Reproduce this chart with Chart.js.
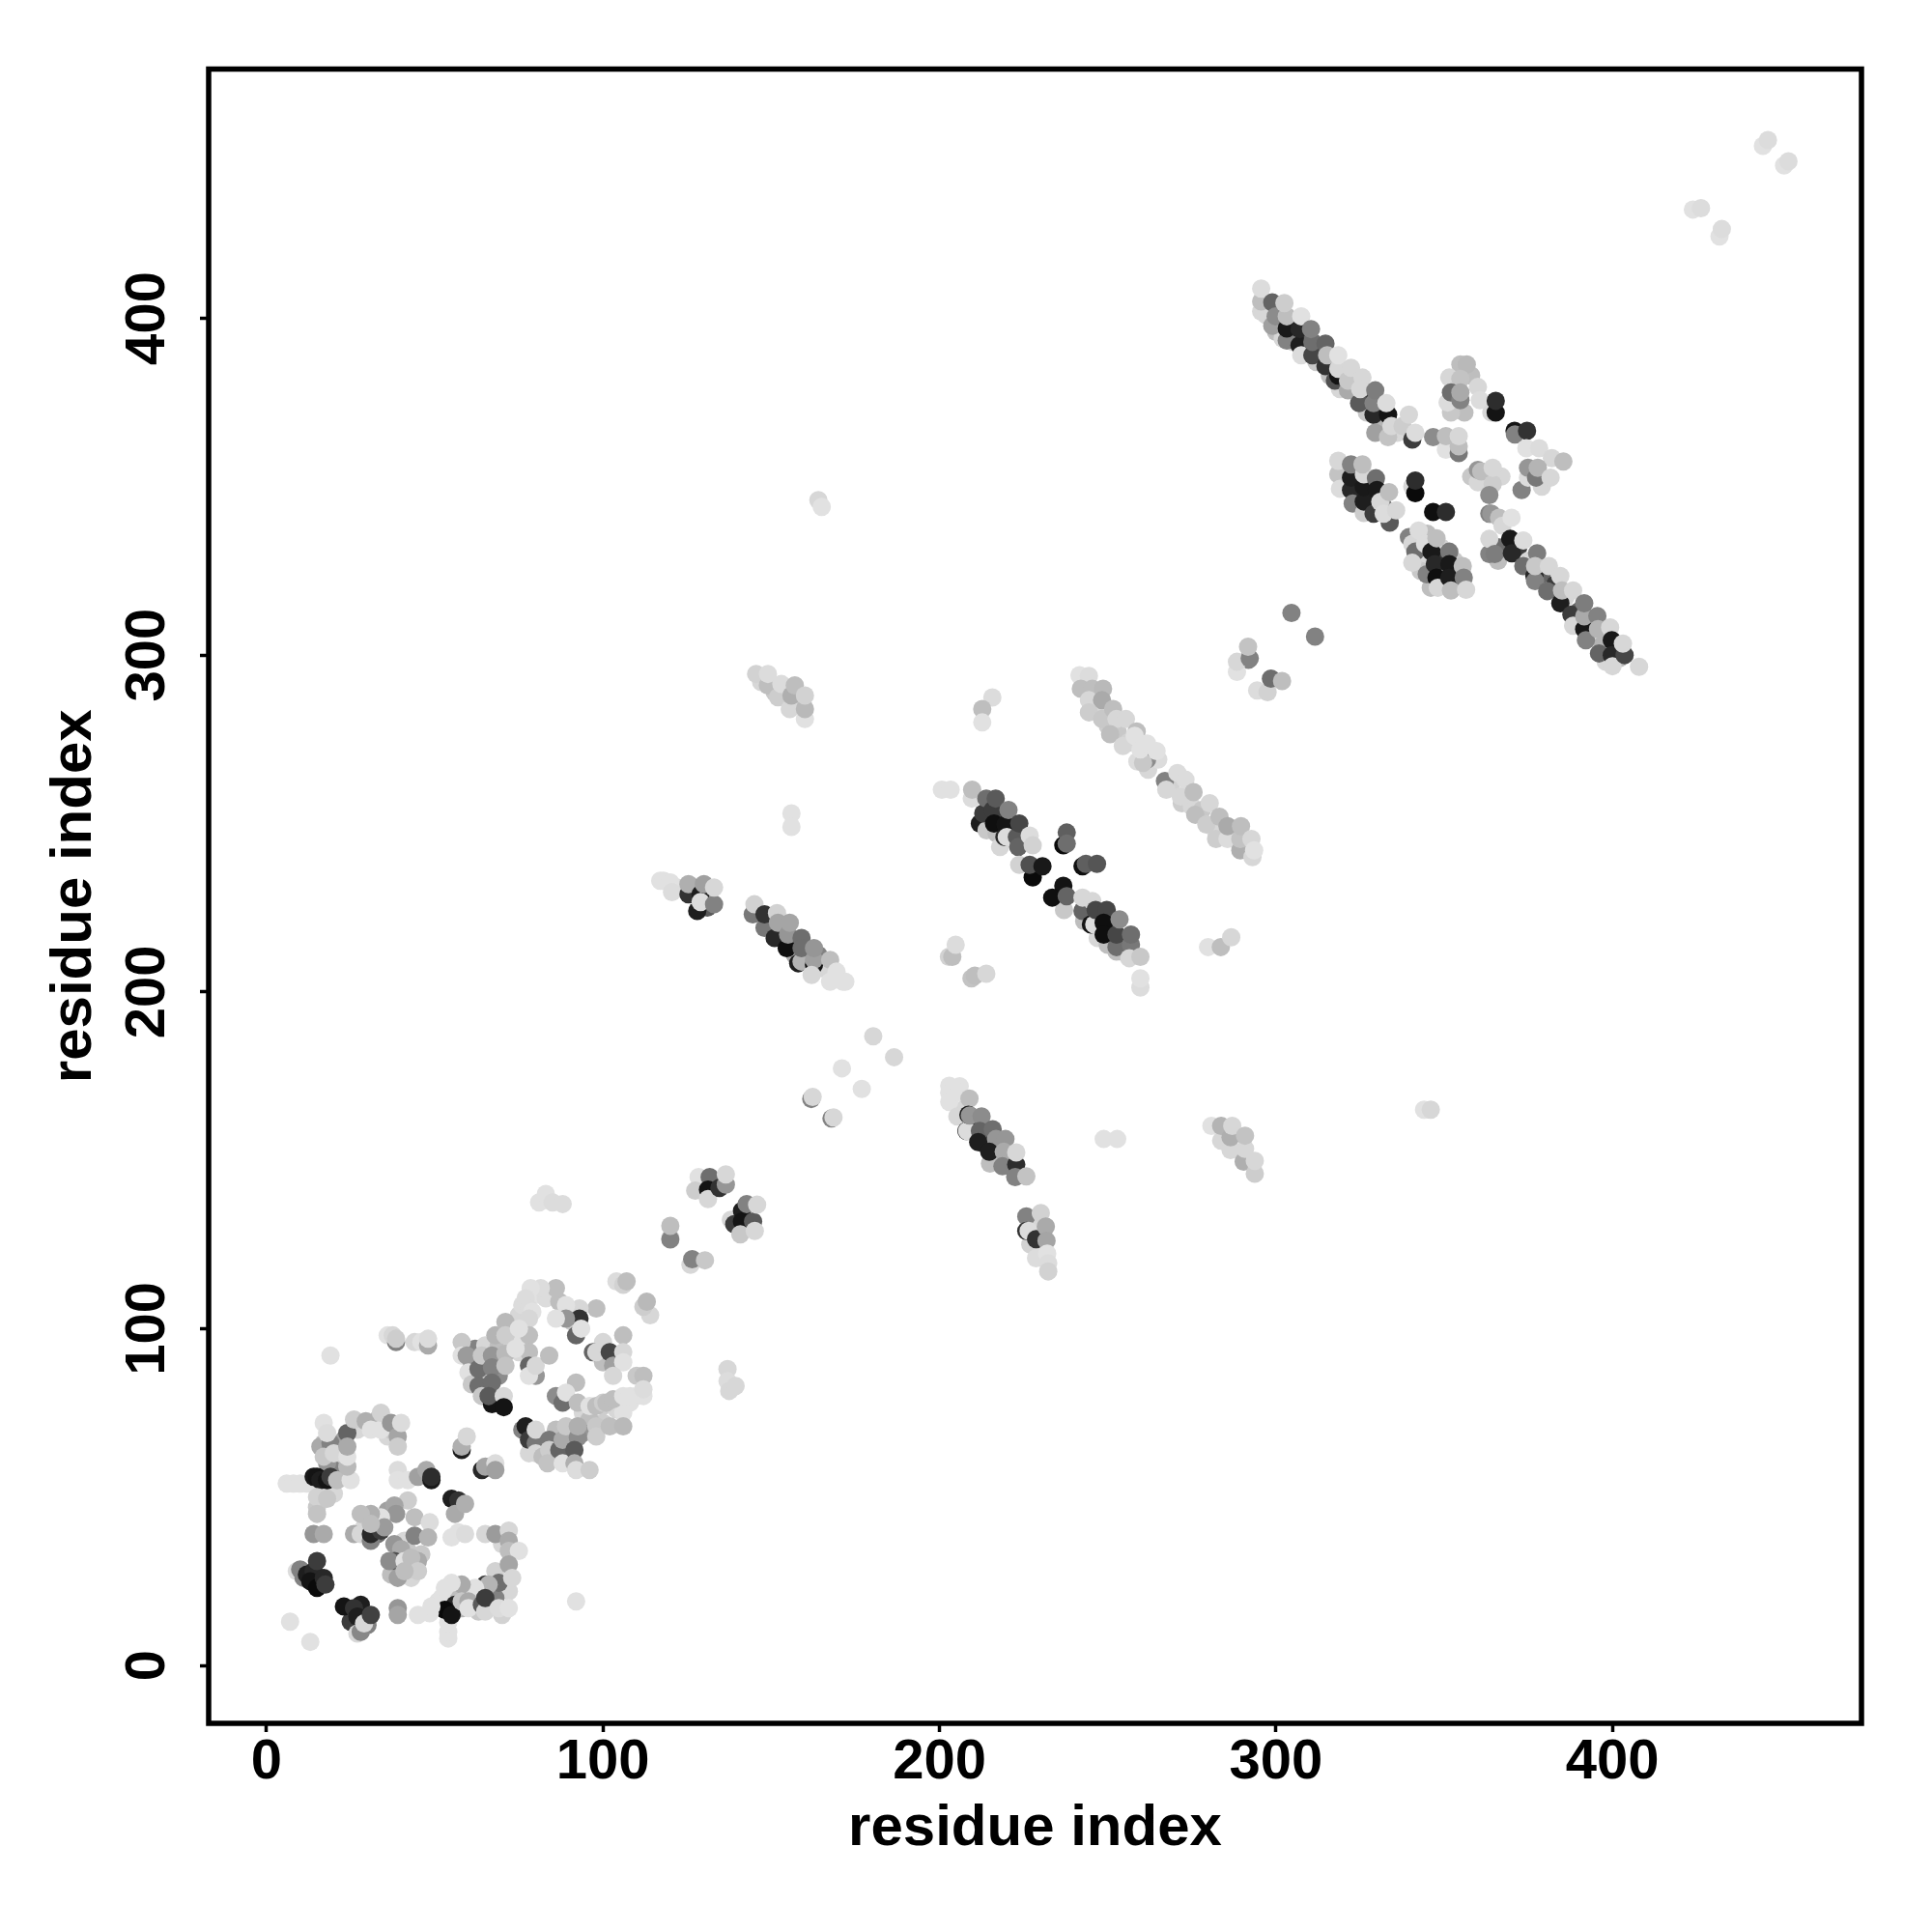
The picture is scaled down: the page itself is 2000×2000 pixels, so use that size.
<!DOCTYPE html>
<html>
<head>
<meta charset="utf-8">
<title>residue contact map</title>
<script src="https://cdn.jsdelivr.net/npm/chart.js@4/dist/chart.umd.min.js"></script>
<style>
    html, body { margin: 0; padding: 0; background: #fff; }
    canvas { display: block; }
</style>
</head>
<body>
<canvas id="contactMap" width="2000" height="2000"></canvas>
<script>
// [residue i, residue j, grey level of the dot], later entries are drawn on top
const lobeLow = [
    [17,66,190],[19,62,180],[21,60,215],[22,57,210],[22,63,200],[20,58,130],[23,67,160],[27,70,215],[33,73,190],[36,68,215],[37,70,200],
    [16,52,220],[20,51,215],[15,47,200],[33,39,110],[33,43,180],[36,46,160],[29,41,215],[41,37,215],[42,34,200],[40,29,190],[43,26,215],
    [37,27,190],[46,33,200],[38,36,150],[44,44,190],[70,36,215],[72,22,215],[68,28,210],[62,20,190],[67,21,200],[57,21,190],
    [51,19,225],[58,17,180],[63,16,200],[68,20,130],[70,15,210],[52,20,225],
    [19,92,225],[7,13,225],[13,7,225],[92,19,225],
    [36,98,225],[38.5,96,130],[37.5,98,215],[38.5,97,205],[44,96,215],[46,96,225],[48,95,170],[48,97,220],
    [6,54,225],[8,54,225],[10,54,225],[12,54,225],
    [16,65,170],[18,60,150],[19,66,130],[17,62,200],[17,72,225],[18,69,220],[20,63,215],
    [14,56,25],[15,56,20],[16,55,30],[18,55,20],[19,56,60],[21,55,190],[25,55,225],
    [24,59,185],[24,62,225],[24,69,100],[24,65,170],[26,73,205],[29.5,72.5,175],[31,70,225],[34,70,225],[34,75,210],
    [37,72,150],[39,68,165],[39,65,205],[40,72,220],
    [15,50,210],[18,49.5,200],[15,45,195],[14,39,150],[17,39,170],
    [39,58,220],[39,55,225],[42,55,225],[45,56,160],[47.5,58,170],[49,55,25],[49,56,45],
    [55,49.5,30],[57,49,50],[56,45,170],[59,48,175],[57,39.5,225],[55,38,225],[59,39,220],
    [58,64,30],[58,65,175],[59.5,68,215],[64,58,40],[65,59,165],[68,60,220],[68,58,160],
    [42,49,205],[38,47.5,165],[38.5,45,150],[34,44,225],[31,45,175],[28,45,190],[26,39,170],[28,39,215],
    [31,37,130],[31,39,40],[34,40,60],[35,41,155],[31,42,190],
    [48.5,42.5,220],[44,38.5,130],[48,38,180],[40,34.5,170],[38,31,80],[36.5,31,140],[41,31,225],[45,31,170],[43,32,190],
    [39,26,160],[45,28,205],[41,28,190],
    [65,39,215],[68,39,155],[72,40,215],[72,37,170],[72,34,190],[75,34,225],[72,30,165],[69,24.5,110],[73,26,215],
    [65,24,60],[66,24,180],[62,23,225],[58,24,170],[55,24.5,225],[53,23,225],
    [54,8,225],[54,10,225],[54,12.7,225],[56,18,40],[53,16.5,10],[55,15,20],[58,19,200],[60,19,170],[60,17,225],[64,18,90],[65,16,215],[65,20,60],
    [49,17.5,225],[48.5,15.5,225],[45,15,225],[39,17,150],[39,15,165],[69,17,220],[72,17,225],
    [9,28,220],[10,28.5,130],[11,26,130],[12,27,30],[14,28,40],[13,25,20],[15,23,10],[15,31,60],[17,26,40],[17.5,24,60],
    [25,13,60],[28,18,30],[30,12,130],[23,17.5,20],[26,17,50],[27,14.5,30],[27,9.5,215],[28,10,135],[29,12.5,215],[31,15,65]
];

const lobeHigh = [
    [62,94,130],[65,90,170],[65,95,215],[69,95,190],[69,86,140],[61,90,110],[64,86,200],[66,82,190],[73,96,210],[75,104,215],[76,96,225],[75,93,215],
    [76,107,220],[80,110,225],[83,109,220],[87,108,190],[91,102,200],[100,72,205],[94,75,215],[96,73,190],[100,77,205],[104,76,215],[106,75,225],
    [108,78,225],[110,80,225],[94,69,150],[86,70,190],[82,67,210],[78,63,215],[85,62,200],[90,65,170],[100,90,190],[104,90,220],[100,96,215],
    [120,127,225],[120,126.5,130],[120,130.5,190],[126,119,215],[126.5,120.6,130],[130.3,120.3,200],
    [104,114,220],[106,113,210],[107,114,190],[114,104,215],[112,106.5,205],[113,108,185],
    [98,106,190],[93,106,215],[89,107,225],[86,112,190],[81.5,112,220],[78.5,112,225],
    [77,109,220],[78,106,220],[79,105,225],[78,103,215],[78,98,190],[78,93,190],[78,89,100],[80,86,150],[78,86,225],[80,89,215],[84,92,190],
    [93,103,50],[89,103,150],[86,103,225],[92,98,100],[93.5,100,225],[106,98,190],
    [97,93,100],[98,93,215],[102,93,70],[103,89,160],[106,93,215],[106,90,225],[103,86,215],[110,86,200],[112,86,190],
    [92,84,190],[86,80,140],[88,78,110],[89,81,225],[92.5,78,190],[96,77,225],[98,77,190],[100,78,205],[101,78,190],[103,79,190],
    [106,80,225],[108,80,225],[112,80,225],[112,82,220],
    [76,70,130],[77,71,30],[78,67,60],[80,66,120],[80,70,215],[80,63,215],[82,62,190],[84,67,120],[84,64,205],[83.5,60,195],
    [87,64,100],[88,67,170],[89,71,200],[88,60,225],[92.5,67.7,140],[92.5,71,175],[91.5,64,90],[91.5,60,175],[92,58,220],[96,58,205],
    [98,71,200],[98,68,205],[102,71,190],[106,71,185],
    [58,96,200],[58,92,225],[59.5,92,155],[60,87,225],[61,83.5,200],[63,88,110],[64,92,200],[63,83,110],[64,80,200],
    [67,92,150],[67,88.5,130],[67,84,110],[68,98,180],[67,77.6,20],[66,80,90],[70.5,80,215],[70.5,76.7,20],
    [71,102,185],[71,98,205],[71,92.5,185],[71,89,195],[74,94,225],[75,100,225],
    [81,137.5,225],[83,140,225],[85,137.5,220],[88,137,220],
    [128.4,145,225],[127.4,141,205],[131.7,145,110],[131.2,141.3,20],[131.2,138.5,215],[134.6,141.8,50],[136.5,142.8,150],[136.5,145.8,215],
    [138,132.3,215],[139,131,60],[141.3,135,30],[141.3,131.8,20],[140.8,128,200],[142.7,137,130],[144.6,131.8,90],[145.1,129,215],[145.8,136.8,215],
    [137,88,215],[137,84.4,220],[137.5,81.5,215],[139.4,83,215]
];

const sheetMiddle = [
    [147,292,215],[151,289,200],[158,286,200],[122,231,220],[127,231,100],[131,229,215],[131,225,90],[150,221,140],[153,218,60],[157,215,80],[157,211,170],[160,211,200],[165,207,215],[164,211,130],
    [212,250,30],[218,252,70],[222,248,60],[214,248,200],[217,247,190],[218,243,215],[243,221,190],[247,216,215],[250,214,190],[254,212,200],[250,218,40],
    [145.5,294.4,210],[149,291,190],[149,294.4,220],[152,287.5,205],[153,291.4,220],[155.5,284,215],[156,288,175],[157,291,190],
    [160,281,225],[160,284,185],[160,288,210],
    [156,253,225],[156,249,225],[164,346,215],[165,344,225],
    [117,233,225],[118,233,225],[120,232.5,225],[120.5,229.6,220],[125.4,229,50],[125.4,232,175],
    [128,224,30],[129,229,30],[129,226.7,220],[130,232,160],[133,226,130],[133,231,215],
    [144.5,223,120],[145,226,210],[148,219,120],[148,223,50],[151.7,223.4,210],[151,216,40],[152,220.5,165],
    [154.6,213,15],[155,217,150],[155.5,220.5,165],[158,208.5,30],[159,209,180],[159,216,110],[159,213,110],
    [162.7,208,20],[162.7,209.5,160],[162.7,213,150],[162,205,215],[167.5,209.5,190],[167.5,203,225],[169.4,206,225],[171.3,203,225],[172,203,225],
    [161.9,168.2,130],[162.3,168.8,215],[167.9,162.4,130],[168.5,162.7,215],[171,177.3,225],[176.9,171.2,225],[180.3,186.8,215],[186.5,180.6,215],
    [200.7,260,225],[203.3,260,225],
    [209.6,257.4,220],[209.7,260,190],[213,253,60],[213.9,257.4,110],[215.8,254,60],[216.7,257.4,90],[216.2,250,15],
    [219.3,246,40],[219.6,249.7,20],[220,246,220],[220.5,254,130],[223,246,90],[223.7,250,70],[223.4,243,100],[226.8,246.4,220],[227.7,243.5,210],
    [223.7,237.7,210],[227.7,234,10],[226.8,237.7,80],[230.6,237.3,25],
    [236.8,243.5,10],[237.8,247.3,95],[237.8,244,110],[242.5,237.3,15],[243.5,238,95],[246.8,238,85],
    [237,224.3,200],[236.8,231.5,20],[233.5,228,15],[237.8,228.4,100],
    [242.5,224,100],[242.5,228,215],[245.4,227,215],[245,220,20],[246,220,220],[246.4,224.3,70],[249.7,224.3,70],[248.8,220.5,15],[248.8,217,15],
    [252.6,212,190],[252.6,213.3,110],[252.6,217,70],[253.5,221.5,140],[256.9,214,120],[256.9,217,110],[256.4,210,215],[259.7,210.4,200],
    [259.7,201.3,220],[259.7,204,225],
    [202.8,210.4,210],[203.8,210.4,190],[204.8,214,220],[209.5,204,195],[210.5,204.8,190],[213.9,205.4,215],
    [215.7,287.4,220],[212.7,284,190],[212.7,280,225],[279.8,213.3,225],[283.6,213.3,190],[286.7,216.2,215]
];

const sheetDiagonal = [
    [247,283,215],[250,279,205],[253,277,200],[256,274,210],[262,266,215],[265,269,220],[269,262,210],[272,256,205],[275,255,215],[278,254,200],[282,248,215],[287,247,190],
    [207,165,215],[210,161,30],[213,155,60],[217,153,110],[220,150,60],[215,149,190],[229,131,215],[229,123,215],[227,125,210],
    [241.6,294,225],[244.4,293.8,220],[242,290,190],[245.4,290,190],[248.6,290,185],
    [244.4,286.6,215],[248.3,286.6,170],[244.4,283,205],[248.3,281,200],[251.6,284,190],[252.6,281,215],[255.4,281,215],
    [250.7,276.5,190],[254.5,273,215],[258.6,277.3,190],[258,276,225],[258.8,268.4,220],[261.7,269,140],[260.5,268,200],[259.7,272,225],[261.7,273.7,225],[264.5,271.5,225],
    [267,262.6,130],[267.4,260,215],[270.7,265,220],[271.7,258,215],[273.1,263,220],[275.5,259.3,190],[276,252.6,190],
    [279.3,249.7,205],[280.3,256,215],[282.2,245.4,205],[283.2,252,190],[285.6,245.4,220],[285.6,249.2,170],
    [289.4,242,175],[289.4,245.4,195],[289.6,249.2,190],[292.7,245.4,215],[293,240,215],[293.5,242,225],
    [206,172,225],[202.9,172.1,225],[202.9,170,225],[202.9,167.3,225],[205.8,170.2,225],[205.3,163,215],[208.9,168.3,190],
    [208,158.7,40],[208.2,158.7,220],[208.6,163.5,30],[209,163.3,150],[212.5,163,140],[212,158.7,100],[211.5,155.4,30],
    [215.8,159.2,110],[216.8,156.3,150],[219.6,156.3,150],[214.8,152.5,30],[219.1,152.5,170],[218.7,148.2,130],[222.8,148.7,45],[222.8,152.3,215],[222.5,145,130],[225.8,145.2,195],
    [225.8,133.3,130],[225.8,129,50],[226.5,129,220],[228.7,126.6,50],[230.1,134.3,210],[231.6,130.3,170],[231.8,126.1,165],
    [228.7,120.9,220],[232,122.3,225],[232.3,119.4,220],[232.3,117,210],
    [248.8,156.3,225],[252.8,156.3,225],
    [280.8,160.2,225],[283.7,155.8,215],[283.7,160.2,180],[286.5,153,215],[286.5,156.8,175],[287,160.2,215],
    [290.4,149.6,175],[290.8,153.4,215],[290.8,157.3,195],[293.7,146,205],[293.7,149.8,215],
    [344,165,225],[346,165,215]
];

const domainTop = [
    [297,401,215],[300,396,190],[302,394,215],[305,398,170],[305,393,215],[309,394,120],[312,391,90],[312,387,200],[316,387,120],[316,383,190],
    [319,379,215],[323,380,100],[326,377,60],[327,372,200],[331,369,180],[331,373,30],[336,366,215],
    [320,351,215],[320,355,60],[324,351,60],[324,347,210],[328,347,90],[328,351,190],[332,344,120],[324,354,200],
    [343,328,215],[343,332,60],[345,336,190],[349,332,210],[349,328,60],[349,324,215],[353,328,200],[353,324,100],[346,320,190],[353,321,215],[343,325,200],
    [366,332,110],[366,328,190],[372,332,60],[375,328,215],[379,324,100],[383,321,60],[386,317,215],[390,313,100],[393,310,60],[394,306,215],[397,303,180],[402,299,190],[398,298,215],
    [356,372,190],[352,372,200],[358,383,190],[367,353,215],[358,353,200],[379,350,215],[373,349,130],
    [291.8,298.6,130],[288.4,295,225],[294.4,289.5,220],[297.5,289,210],[298.5,293,110],[301.8,292.3,190],
    [304.6,312.5,130],[311.6,305.5,130],[288.4,298,215],[292.2,299,130],[291.7,302.5,195],
    [295.6,402,215],[295.6,405,190],[295.6,408.8,220],[298.9,397.8,160],[298.9,404.7,100],[299.9,400.6,140],
    [303.2,393.4,130],[303.2,397,25],[303.2,400.6,190],[302.5,404.5,205],[307,392,30],[307,396.8,40],[307.5,389,220],[307.5,400.6,225],
    [310.8,389,70],[310.8,393,110],[310.4,396.8,130],[314.7,385.8,50],[314.7,392.5,100],[315.2,389,190],
    [317.5,381.5,80],[318.5,383,20],[318.5,385,215],[318.5,389,225],[321.4,378.6,170],[321.4,381.5,200],[322.3,385.3,215],[325.7,382.4,215],
    [324.7,374.8,90],[325,379,215],[329,371.4,40],[329,374.8,130],[329.5,366,160],[329.5,378.6,125],
    [333.3,371.4,20],[332.8,374.8,220],[333.3,364.7,195],[334.3,368,215],[337.6,368,205],[339.5,371.4,215],[340.5,364,60],[341.4,366,220],
    [346.7,364.7,140],[350.5,361,225],[350.5,365,190],[354.3,360,120],[354.3,362,190],[354.3,365,215],
    [354.8,386.3,190],[356.7,386.3,185],[351.5,382.4,215],[354.8,382,195],[351,375,220],[352,378,110],[354.8,375.7,130],[354.8,378,170],
    [360,379.6,215],[360.6,375.7,220],[364,372,215],[365.3,372,20],[365.3,375.5,45],
    [370.9,366.6,20],[371,365.5,130],[374.6,366.6,50],[374.4,361.4,225],[378.2,361.4,220],[382,358.5,215],[385.4,357.5,190],
    [374.9,352.7,220],[374.9,355.6,150],[377.3,352.7,120],[377.8,355.6,180],[381.6,352.7,215],
    [360,351.3,215],[360,355,150],[361,354.5,190],[364.4,350.8,205],[364.4,355.6,215],[363.4,347.5,140],
    [363.4,342,130],[364,342,150],[366.3,340.8,190],[367.3,338.4,215],[370,340.8,225],
    [318.5,353.7,195],[318.5,357.7,215],[319,349.4,220],[322.3,349,40],[322.3,352.7,30],[322.3,356.6,130],[322.8,345,130],
    [326.1,342.2,205],[326.1,345.6,30],[326.1,349.9,25],[326.1,353.7,215],[325.7,356.6,190],
    [329,342,60],[329.7,352.5,110],[330,349,25],[331,345.5,215],[333.8,339.3,90],[333.6,348.4,190],[332,342,220],[335.7,343,215],
    [340.5,350,215],[341.4,348.1,10],[341.4,351.8,45],[346.7,342.5,15],[350.5,342.5,45],
    [339.5,335,130],[340.5,333,215],[341.4,330.7,110],[340.5,327.4,215],[342.4,337,220],[344.3,333,220],
    [344.8,324,130],[346.2,330.7,25],[347.2,327,40],[347.7,323,15],[347.7,334.7,190],[348.1,320,215],
    [351.5,330.7,120],[351.5,327,25],[351.5,323,30],[352,319.2,190],[355.5,326.4,190],[355.8,323,130],[356.5,319.4,215],
    [363.4,330,130],[363.4,334.5,215],[365,330,125],[369.6,334.5,25],[370.1,330.2,40],[373.5,326.4,110],[373.5,334,220],
    [376.8,323.5,40],[377,322,130],[377.6,330.2,125],[377,326.4,200],[381.1,326.4,215],[380.6,319,110],[384.5,315.4,30],[384.5,323.5,215],[385,319.2,190],
    [387.8,312,60],[388.3,308.7,215],[388.3,319.2,215],[391.6,307.7,25],[391.6,311.5,170],[391.6,315.4,125],[392.1,304.4,130],
    [395.5,311.6,130],[396,300.5,100],[395.7,307.7,180],[399.3,308.2,215],[399.8,304.4,25],[399.8,300,40],[400,296.7,215],
    [403.6,300,70],[403.1,303.4,215],[407.9,296.5,215],
    [423.9,432.3,225],[426.3,432.7,220],[431.8,424.3,225],[432.5,426.5,220],[444.7,451.2,225],[446.2,452.9,220],[451,445.4,225],[452.3,446.6,220]
];

const clusters = [lobeLow, lobeHigh, sheetMiddle, sheetDiagonal, domainTop];
const tickValues = [0, 100, 200, 300, 400];
const axisMin = -17.2;
const axisMax = 474;
const axisTitle = 'residue index';

// R style box around the plot area
const plotBox = {
    id: 'plotBox',
    afterDraw(chart) {
        const { ctx, chartArea: a } = chart;
        ctx.save();
        ctx.strokeStyle = '#000';
        ctx.lineWidth = 5.5;
        ctx.strokeRect(a.left, a.top, a.right - a.left, a.bottom - a.top);
        ctx.restore();
    }
};

function scaleOptions(titlePadding) {
    return {
        type: 'linear',
        min: axisMin,
        max: axisMax,
        afterBuildTicks: scale => {
            scale.ticks = tickValues.map(v => ({ value: v }));
        },
        border: { display: false },
        grid: {
            drawOnChartArea: false,
            drawTicks: true,
            tickLength: 9,
            tickWidth: 3.5,
            tickColor: '#000'
        },
        title: {
            display: true,
            text: axisTitle,
            color: '#000',
            font: { family: 'Liberation Sans', size: 60, weight: 'bold' },
            padding: titlePadding
        }
    };
}

const xOptions = scaleOptions({ top: 0, bottom: 71 });
xOptions.afterFit = scale => { scale.height = 216; };
xOptions.ticks = {
    color: '#000',
    autoSkip: false,
    maxRotation: 0,
    padding: -3,
    font: { family: 'Liberation Sans', size: 58, weight: 'bold' }
};

const yOptions = scaleOptions({ top: 41, bottom: 41 });
yOptions.afterFit = scale => { scale.width = 216; };
yOptions.ticks = {
    color: '#000',
    autoSkip: false,
    minRotation: 90,
    maxRotation: 90,
    crossAlign: 'center',
    padding: 5,
    font: { family: 'Liberation Sans', size: 58, weight: 'bold' }
};

new Chart(document.getElementById('contactMap'), {
    type: 'scatter',
    data: {
        datasets: clusters.map(points => ({
            data: points.map(p => ({ x: p[0], y: p[1] })),
            pointBackgroundColor: points.map(p => `rgb(${p[2]},${p[2]},${p[2]})`),
            pointBorderWidth: 0,
            pointRadius: 9.5
        }))
    },
    options: {
        responsive: false,
        animation: false,
        layout: { padding: { top: 71.5, right: 73, left: 0, bottom: 0 } },
        plugins: { legend: { display: false }, tooltip: { enabled: false } },
        scales: { x: xOptions, y: yOptions }
    },
    plugins: [plotBox]
});
</script>
</body>
</html>
